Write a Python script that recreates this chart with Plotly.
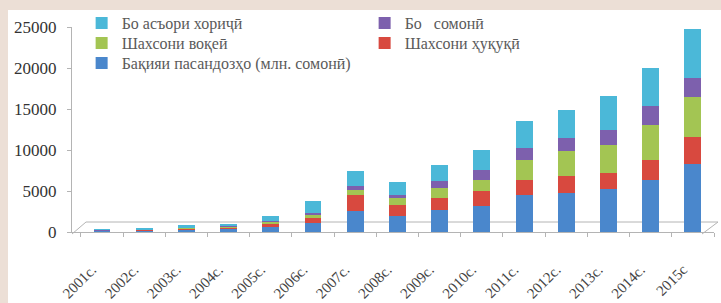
import plotly.graph_objects as go

years = ["2001с.", "2002с.", "2003с.", "2004с.", "2005с.", "2006с.", "2007с.", "2008с.",
         "2009с.", "2010с.", "2011с.", "2012с.", "2013с.", "2014с.", "2015с"]

deposits_blue = [150, 200, 350, 450, 600, 1150, 2550, 1950, 2700, 3170, 4500, 4760, 5250, 6340, 8300]
legal_red = [60, 70, 130, 150, 450, 600, 1950, 1350, 1450, 1830, 1830, 2070, 1950, 2440, 3250]
individ_green = [30, 40, 60, 80, 200, 350, 600, 850, 1200, 1340, 2440, 3050, 3410, 4270, 4900]
somoni_purple = [20, 30, 50, 70, 150, 250, 500, 350, 850, 1220, 1470, 1590, 1830, 2320, 2350]
foreign_cyan = [90, 110, 210, 250, 550, 1450, 1900, 1600, 1950, 2440, 3300, 3410, 4150, 4630, 5900]

y_ticks = [0, 5000, 10000, 15000, 20000, 25000]
y_tick_text = ["0", "5000", "10000", "15000", "20000", "25000"]

# (name, values, colour, legend row)
series = [
    ("Бақияи пасандозҳо (млн. сомонӣ)", deposits_blue, "#4a87cc", "legend3"),
    ("Шахсони ҳуқуқӣ", legal_red, "#d8493f", "legend2"),
    ("Шахсони воқеӣ", individ_green, "#a3c553", "legend2"),
    ("Бо   сомонӣ", somoni_purple, "#7d60ad", "legend"),
    ("Бо асъори хориҷӣ", foreign_cyan, "#4bb8d8", "legend"),
]

fig = go.Figure()
for name, vals, col, lg in series:
    fig.add_trace(go.Bar(x=years, y=vals, name=name, legend=lg,
                         marker=dict(color=col, line=dict(width=0)), width=0.4))

W, H = 721, 303
L, R, T, B = 72, 7, 27, 71
pw = W - L - R
ph = H - T - B

def px(x):
    return (x - L) / pw

def py(y):
    return (H - B - y) / ph

shapes = [
    dict(type="rect", xref="paper", yref="paper", x0=px(8), x1=px(730), y0=py(310), y1=py(10),
         fillcolor="white", line=dict(width=0), layer="below"),
    dict(type="path", xref="paper", yref="paper",
         path=f"M {px(72)},{py(234)} L {px(86)},{py(222)} L {px(718)},{py(222)} L {px(702)},{py(234)}",
         line=dict(color="#b4b4b4", width=1), layer="below"),
]

serif = "Liberation Serif"
leg_common = dict(orientation="h", traceorder="reversed", xanchor="left", yanchor="middle",
                  entrywidth=238, entrywidthmode="pixels", itemwidth=30,
                  font=dict(family=serif, size=16, color="#5a5a5a"),
                  bgcolor="rgba(0,0,0,0)")
lx = 0.015

fig.update_layout(
    width=W, height=H,
    margin=dict(l=L, r=R, t=T, b=B, autoexpand=False),
    paper_bgcolor="#ecdfd6",
    plot_bgcolor="rgba(0,0,0,0)",
    barmode="stack",
    shapes=shapes,
    showlegend=True,
    legend=dict(x=lx, y=py(23), **leg_common),
    legend2=dict(x=lx, y=py(43), **leg_common),
    legend3=dict(x=lx, y=py(63), **leg_common),
    xaxis=dict(range=[-0.71, 14.5], showline=True, linecolor="#b4b4b4", linewidth=1,
               ticks="outside", tickson="boundaries", ticklen=4, tickcolor="#b4b4b4",
               tickangle=-45, ticklabelstandoff=22, ticklabelshift=-10,
               tickfont=dict(family=serif, size=15, color="#444444"),
               showgrid=False, zeroline=False, fixedrange=True),
    yaxis=dict(range=[0, 25000], tickvals=y_ticks, ticktext=y_tick_text, showline=True,
               linecolor="#b4b4b4", linewidth=1,
               ticks="outside", ticklen=4, tickcolor="#b4b4b4", ticklabelstandoff=7,
               tickfont=dict(family=serif, size=17, color="#333333"),
               showgrid=False, zeroline=False, fixedrange=True),
)

fig.write_html("out.html", config={"displayModeBar": False},
               post_script="document.body.style.margin='0px';")
